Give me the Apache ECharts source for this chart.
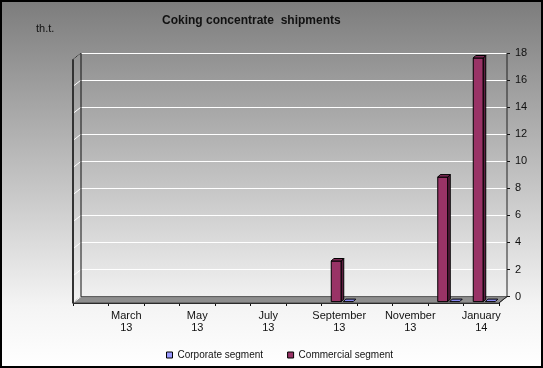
<!DOCTYPE html>
<html>
<head>
<meta charset="utf-8">
<script src="https://cdn.jsdelivr.net/npm/echarts@6/dist/echarts.min.js"></script>
<style>html,body{margin:0;padding:0;}#c{width:543px;height:368px;}</style>
</head>
<body>
<div id="c"></div>
<script>
const categories = ['February\n13','March\n13','April\n13','May\n13','June\n13','July\n13','August\n13','September\n13','October\n13','November\n13','December\n13','January\n14'];
const corporate = [null,null,null,null,null,null,null,0,null,null,0,0];
const commercial = [null,null,null,null,null,null,null,3.0,null,null,9.2,18.0];
const yTicks = [0,2,4,6,8,10,12,14,16,18];

const FONT = 'Liberation Sans, Arial, sans-serif';
const FX = -8, FY = 6.3;       // floor depth offset (back -> front)
const SX = -5.5, SY = 5;       // bar plane offset from back wall
const D = 2.5;                 // bar depth

function barRenderer(face, top, side, offsetFn) {
  return function (params, api) {
    const idx = api.value(0), v = api.value(1);
    if (v === null || isNaN(v)) return null;
    const p0 = api.coord([idx, 0]);
    const pv = api.coord([idx, v]);
    const cx = p0[0];
    const x0 = cx + SX + offsetFn();
    const x1 = x0 + 10;
    const yb = p0[1] + SY;
    const yt = pv[1] + SY;
    const children = [];
    if (yb - yt > 0.5) {
      children.push({type:'rect', shape:{x:x0, y:yt, width:x1-x0, height:yb-yt}, style:{fill:face, stroke:'#000', lineWidth:1}});
      children.push({type:'polygon', shape:{points:[[x1,yt],[x1+D,yt-D],[x1+D,yb-D],[x1,yb]]}, style:{fill:side, stroke:'#000', lineWidth:1}});
    }
    children.push({type:'polygon', shape:{points:[[x0,yt],[x1,yt],[x1+D,yt-D],[x0+D,yt-D]]}, style:{fill:top, stroke:'#000', lineWidth:1}});
    return {type:'group', children};
  };
}

function frameRenderer(params, api) {
  const band = api.size([1, 0])[0];
  const first = api.coord([0, 0]);
  const last = api.coord([categories.length - 1, 0]);
  const xl = first[0] - band / 2, xr = last[0] + band / 2;
  const yBot = first[1];
  const yTop = api.coord([0, yTicks[yTicks.length - 1]])[1];
  const ch = [];
  ch.push({type:'polygon', shape:{points:[[xl,yBot],[xr,yBot],[xr+FX,yBot+FY],[xl+FX,yBot+FY]]}, style:{fill:'#8e8e8e', stroke:'#555', lineWidth:1}});
  yTicks.forEach(function (t) {
    const y = api.coord([0, t])[1];
    ch.push({type:'line', shape:{x1:xl, y1:y, x2:xl+FX, y2:y+FY}, style:{stroke:'#ffffff', lineWidth:1}});
  });
  ch.push({type:'line', shape:{x1:xl, y1:yTop, x2:xl, y2:yBot}, style:{stroke:'#111', lineWidth:1}});
  ch.push({type:'line', shape:{x1:xl+FX, y1:yTop+FY, x2:xl+FX, y2:yBot+FY}, style:{stroke:'#333', lineWidth:2}});
  ch.push({type:'line', shape:{x1:xl+FX, y1:yTop+FY, x2:xl, y2:yTop}, style:{stroke:'#333', lineWidth:1}});
  ch.push({type:'line', shape:{x1:xr, y1:yTop, x2:xr, y2:yBot}, style:{stroke:'#222', lineWidth:1}});
  ch.push({type:'line', shape:{x1:xr, y1:yBot, x2:xr+FX, y2:yBot+FY}, style:{stroke:'#222', lineWidth:1}});
  return {type:'group', children: ch};
}

const chart = echarts.init(document.getElementById('c'));
chart.setOption({
  animation: false,
  backgroundColor: {type:'linear', x:0, y:0, x2:0, y2:1, colorStops:[{offset:0, color:'#7c7c7c'},{offset:0.83, color:'#f4f4f4'},{offset:1, color:'#ffffff'}]},
  title: {text:'Coking concentrate  shipments', left:157, top:10, textStyle:{fontFamily:FONT, fontSize:12, fontWeight:'bold', color:'#111'}},
  graphic: [
    {type:'text', left:36, top:23, style:{text:'th.t.', font:'11px ' + FONT, fill:'#111'}},
    {type:'rect', shape:{x:1, y:1, width:541, height:366}, style:{fill:null, stroke:'#000', lineWidth:2}, z:100}
  ],
  legend: {
    left:161, top:345, itemWidth:6, itemHeight:6, itemGap:24,
    textStyle:{fontFamily:FONT, fontSize:10, color:'#111'},
    data:[
      {name:'Corporate segment', icon:'rect', itemStyle:{color:'#9999ff', borderColor:'#000', borderWidth:1}},
      {name:'Commercial segment', icon:'rect', itemStyle:{color:'#993366', borderColor:'#000', borderWidth:1}}
    ]
  },
  grid: [
    {left:81, right:36, top:53, height:243.6},
    {left:73, right:44, top:59.4, height:243.6}
  ],
  xAxis: [
    {type:'category', gridIndex:0, data:categories, show:false},
    {type:'category', gridIndex:1, data:categories, position:'bottom',
      axisLine:{show:true, lineStyle:{color:'#111', width:1}},
      axisTick:{show:true, interval:0, length:3, lineStyle:{color:'#111'}},
      axisLabel:{interval:function(i){return i % 2 === 1;}, margin:7, fontFamily:FONT, fontSize:11, lineHeight:12, color:'#111'},
      splitLine:{show:false}}
  ],
  yAxis: [
    {type:'value', gridIndex:0, position:'right', min:0, max:18, interval:2,
      axisLine:{show:false},
      axisTick:{show:true, length:3, lineStyle:{color:'#111'}},
      axisLabel:{margin:8, fontFamily:FONT, fontSize:11, color:'#111'},
      splitLine:{show:true, lineStyle:{color:'#ffffff', width:1}}},
    {type:'value', gridIndex:1, min:0, max:18, interval:2, show:false, splitLine:{show:false}}
  ],
  series: [
    {type:'custom', name:'frame', xAxisIndex:0, yAxisIndex:0, data:[[0,0]], renderItem:frameRenderer, silent:true, z:1, tooltip:{show:false}},
    {type:'custom', name:'Commercial segment', xAxisIndex:0, yAxisIndex:0, z:3,
      itemStyle:{color:'#993366'},
      data: commercial.map(function(v,i){return [i, v];}),
      renderItem: barRenderer('#993366', '#7d2a55', '#5e1e40', function(){return -10.5;})},
    {type:'custom', name:'Corporate segment', xAxisIndex:0, yAxisIndex:0, z:3,
      itemStyle:{color:'#9999ff'},
      data: corporate.map(function(v,i){return [i, v];}),
      renderItem: barRenderer('#9999ff', '#8888ee', '#6666cc', function(){return 1.5;})}
  ]
});
</script>
</body>
</html>
